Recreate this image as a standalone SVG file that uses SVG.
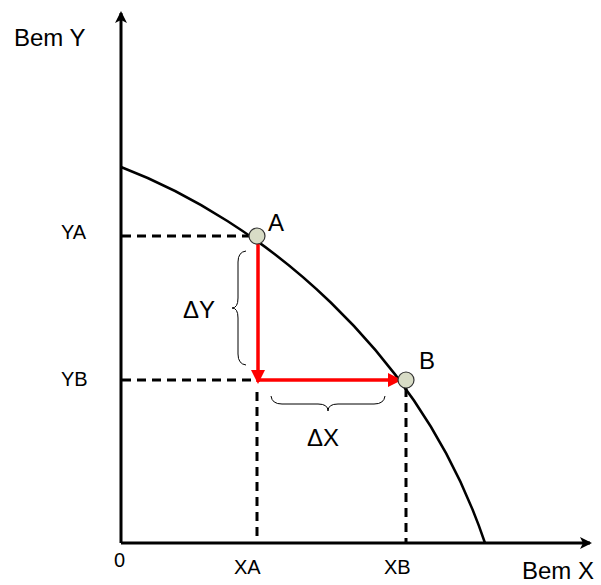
<svg xmlns="http://www.w3.org/2000/svg" width="601" height="585" viewBox="0 0 601 585">
<style>
text{font-family:"Liberation Sans",Arial,sans-serif;fill:#000}
.ax{font-size:24px}
.big{font-size:24px}
.sm{font-size:20px}
.dash{stroke:#000;stroke-width:3;stroke-dasharray:9 6;fill:none}
.red{stroke:#ff0000;stroke-width:3.5;fill:none}
.brace{stroke:#000;stroke-width:1;fill:none}
.pt{fill:#d8dcc6;stroke:#333;stroke-width:1.2}
</style>
<defs>
<marker id="ax" markerWidth="12" markerHeight="12" refX="10" refY="6" orient="auto" markerUnits="userSpaceOnUse" viewBox="0 0 12 12">
<path d="M0,0 L12,6 L0,12 L3,6 Z" fill="#000"/>
</marker>
<marker id="ra" markerWidth="14" markerHeight="14" refX="12" refY="7" orient="auto" markerUnits="userSpaceOnUse" viewBox="0 0 14 14">
<path d="M0,0 L14,7 L0,14 Z" fill="#ff0000"/>
</marker>
</defs>
<g id="connectors">
<line x1="121" y1="543" x2="121" y2="13" stroke="#000" stroke-width="3" marker-end="url(#ax)"/>
<line x1="121" y1="543" x2="590" y2="543" stroke="#000" stroke-width="3" marker-end="url(#ax)"/>
<path d="M121,167 C260,220 420,350 485,543" stroke="#000" stroke-width="2.5" fill="none"/>
<line class="dash" x1="122" y1="236" x2="249" y2="236"/>
<line class="dash" x1="122" y1="380" x2="257" y2="380"/>
<line class="dash" x1="257" y1="392" x2="257" y2="543"/>
<line class="dash" x1="406" y1="388" x2="406" y2="543"/>
<line class="red" x1="258" y1="240" x2="258" y2="382" marker-end="url(#ra)"/>
<line class="red" x1="258" y1="380" x2="400" y2="380" marker-end="url(#ra)"/>
<path class="brace" d="M246,251 Q238,252 238,262 L238,298 Q238,308 232,308 Q238,308 238,318 L238,354 Q238,364 246,365"/>
<path class="brace" d="M271,396 Q272,404 282,404 L318,404 Q328,404 328,411 Q328,404 338,404 L374,404 Q384,404 385,396"/>
</g>
<g id="nodeA"><circle class="pt" cx="257" cy="236" r="8"/><text class="big" x="268" y="231">A</text></g>
<g id="nodeB"><circle class="pt" cx="406" cy="380" r="8"/><text class="big" x="419" y="369">B</text></g>
<g id="labels">
<text class="ax" x="14" y="46">Bem Y</text>
<text class="ax" x="522" y="579">Bem X</text>
<text class="sm" x="61" y="239">YA</text>
<text class="sm" x="61" y="386">YB</text>
<text class="sm" x="114" y="567">0</text>
<text class="sm" x="234" y="574">XA</text>
<text class="sm" x="384" y="574">XB</text>
<text class="big" x="183" y="318">ΔY</text>
<text class="big" x="307" y="446">ΔX</text>
</g>
</svg>
